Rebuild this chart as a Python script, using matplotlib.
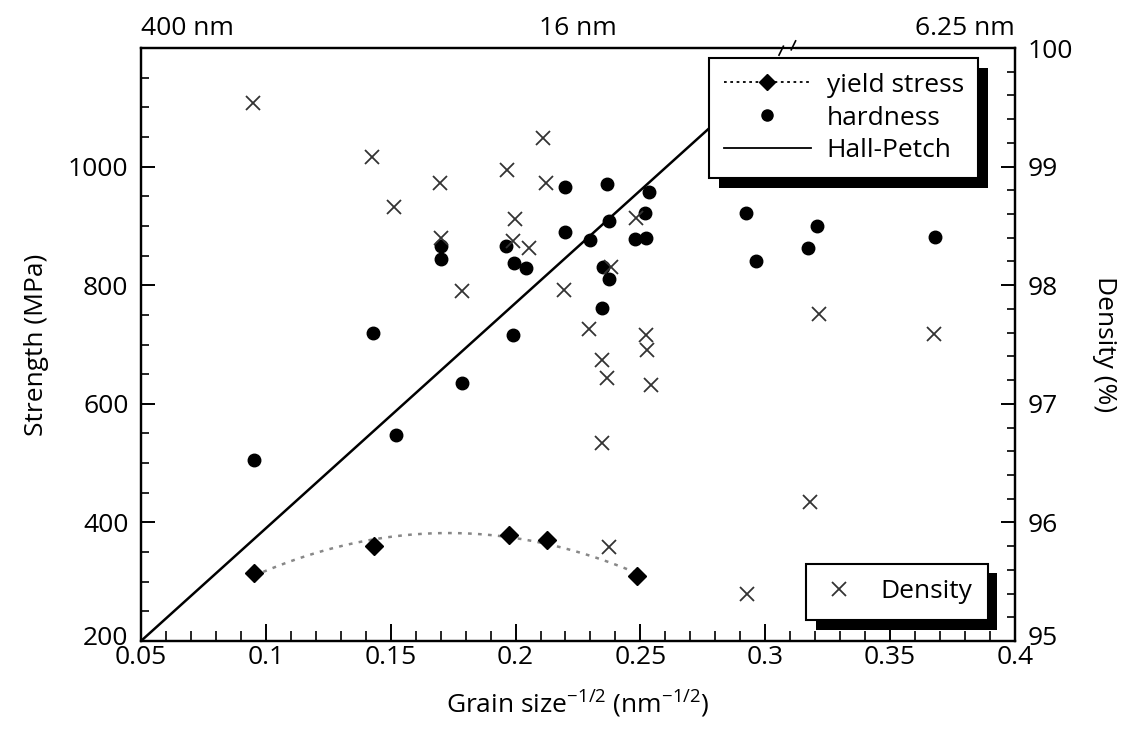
import numpy as np
import matplotlib
matplotlib.use("Agg")
from matplotlib import pyplot as plt
from matplotlib import patheffects as pe
from matplotlib import transforms as mtransforms
from matplotlib.ticker import MultipleLocator

# values
yield_x = [0.0953, 0.1432, 0.1973, 0.2127, 0.2487]
yield_y = [314, 361, 379, 371, 309]

hard_x = [0.0952, 0.1428, 0.1523, 0.1784, 0.1988, 0.1700, 0.1700, 0.1963, 0.1993,
          0.2043, 0.2199, 0.2367, 0.2536, 0.2519, 0.2376, 0.2200, 0.2300, 0.2479,
          0.2523, 0.2349, 0.2376, 0.2345, 0.2923, 0.2963, 0.3209, 0.3173, 0.3680]
hard_y = [505, 719, 548, 635, 716, 866, 845, 866, 838,
          829, 965, 970, 958, 921, 909, 889, 877, 878,
          880, 830, 810, 761, 921, 841, 900, 863, 882]

hp_x = [0.05, 0.30]
hp_y = [200, 1150]

dens_x = [0.0947, 0.1427, 0.1513, 0.1696, 0.2109, 0.1967, 0.2123, 0.1996, 0.1703,
          0.1989, 0.2052, 0.1787, 0.2193, 0.2483, 0.2296, 0.2523, 0.3216, 0.3676,
          0.2527, 0.2345, 0.2367, 0.2543, 0.2345, 0.3179, 0.2376, 0.2925, 0.2384]
dens_y = [99.54, 99.08, 98.66, 98.86, 99.24, 98.97, 98.86, 98.56, 98.40,
          98.37, 98.31, 97.95, 97.96, 98.57, 97.63, 97.58, 97.76, 97.59,
          97.45, 97.37, 97.22, 97.16, 96.67, 96.17, 95.79, 95.40, 98.15]

top_labels = ["400 nm", "16 nm", "6.25 nm"]

FS = 19
plt.rcParams['font.family'] = ['Open Sans', 'DejaVu Sans']
plt.rcParams['font.size'] = FS
plt.rcParams['mathtext.fontset'] = 'custom'
plt.rcParams['mathtext.rm'] = 'Open Sans'

fig = plt.figure(figsize=(11.26, 7.33), dpi=100)
ax = fig.add_axes([0.1252, 0.1255, 0.7762, 0.809])
ax2 = ax.twinx()

# yield stress trend (quadratic fit through the points) + markers
coef = np.polyfit(yield_x, yield_y, 2)
xx = np.linspace(min(yield_x), max(yield_x), 100)
ax.plot(xx, np.polyval(coef, xx), ls=(0, (1.5, 2.5)), color='#888888', lw=1.8)
ax.plot(yield_x, yield_y, 'D', color='black', ms=9)
ax.plot(hard_x, hard_y, 'o', color='black', ms=9)
ax.plot(hp_x, hp_y, '-', color='black', lw=1.8)

ax2.plot(dens_x, dens_y, 'x', color='#333333', ms=10.5, mew=1.3)

ax.set_xlim(0.05, 0.4)
ax.set_ylim(200, 1200)
ax2.set_ylim(95, 100)

ax.set_xticks([0.05, 0.1, 0.15, 0.2, 0.25, 0.3, 0.35, 0.4])
ax.set_xticklabels(['0.05', '0.1', '0.15', '0.2', '0.25', '0.3', '0.35', '0.4'])
ax.xaxis.set_minor_locator(MultipleLocator(0.01))
ax.set_yticks([200, 400, 600, 800, 1000])
ax.yaxis.set_minor_locator(MultipleLocator(50))
ax2.set_yticks([95, 96, 97, 98, 99, 100])
ax2.yaxis.set_minor_locator(MultipleLocator(0.2))

ax.tick_params(axis='x', which='major', direction='in', length=12, width=1.4, pad=3, labelsize=FS)
ax.tick_params(axis='x', which='minor', direction='in', length=7, width=1.2)
ax.tick_params(axis='y', which='major', direction='in', length=10, width=1.4, pad=9, labelsize=FS)
ax.tick_params(axis='y', which='minor', direction='in', length=6, width=1.2)
ax2.tick_params(axis='y', which='major', direction='in', length=10, width=1.4, pad=9, labelsize=FS)
ax2.tick_params(axis='y', which='minor', direction='in', length=6, width=1.2)

for a in (ax, ax2):
    for s in a.spines.values():
        s.set_linewidth(1.6)

# lift the lowest y labels a little so they clear the x labels, as in the original
up = mtransforms.ScaledTranslation(0, 4 / 72, fig.dpi_scale_trans)
for lbl in (ax.get_yticklabels()[0], ax2.get_yticklabels()[0]):
    lbl.set_transform(lbl.get_transform() + up)

ax.set_xlabel('Grain size$^{-1/2}$ (nm$^{-1/2}$)', fontsize=FS, labelpad=12)
ax.set_ylabel('Strength (MPa)', fontsize=FS, labelpad=14)
ax2.set_ylabel('Density (%)', fontsize=FS, rotation=270, labelpad=32)

# top labels for grain size
ax.text(0.0, 1.012, top_labels[0], transform=ax.transAxes, ha='left', va='bottom', fontsize=FS)
ax.text(0.5, 1.012, top_labels[1], transform=ax.transAxes, ha='center', va='bottom', fontsize=FS)
ax.text(1.0, 1.012, top_labels[2], transform=ax.transAxes, ha='right', va='bottom', fontsize=FS)

# break mark on the top spine
ax.plot([0.733, 0.746], [1.0, 1.0], transform=ax.transAxes, color='white', lw=3, clip_on=False, zorder=5)
ax.plot([0.730, 0.735], [0.988, 1.003], transform=ax.transAxes, color='black', lw=1.2, clip_on=False, zorder=6)
ax.plot([0.744, 0.749], [0.997, 1.012], transform=ax.transAxes, color='black', lw=1.2, clip_on=False, zorder=6)

h_yield, = ax.plot([], [], ls=(0, (1.5, 2.0)), color='black', marker='D', ms=8, lw=1.3)
h_hard, = ax.plot([], [], 'o', color='black', ms=8)
h_hp, = ax.plot([], [], '-', color='black', lw=1.3)
h_dens, = ax.plot([], [], 'x', color='#333333', ms=10, mew=1.3)

shadow = [pe.SimplePatchShadow(offset=(7, -7), shadow_rgbFace='black', alpha=1.0), pe.Normal()]

leg1 = ax2.legend([h_yield, h_hard, h_hp], ['yield stress', 'hardness', 'Hall-Petch'],
                  loc='upper left', bbox_to_anchor=(0.65, 0.983), borderaxespad=0,
                  fancybox=False, framealpha=1, edgecolor='black', fontsize=FS,
                  handlelength=3.3, numpoints=1, labelspacing=0.3, borderpad=0.55,
                  handletextpad=0.6)
leg1.get_frame().set_linewidth(1.5)
leg1.get_frame().set_path_effects(shadow)
ax2.add_artist(leg1)

leg2 = ax2.legend([h_dens], ['Density'], loc='lower left', bbox_to_anchor=(0.761, 0.035),
                  borderaxespad=0, fancybox=False, framealpha=1, edgecolor='black',
                  fontsize=FS, handlelength=1.3, borderpad=0.6, handletextpad=0.9)
leg2.get_frame().set_linewidth(1.5)
leg2.get_frame().set_path_effects(shadow)

fig.savefig('out.png', dpi=100)
